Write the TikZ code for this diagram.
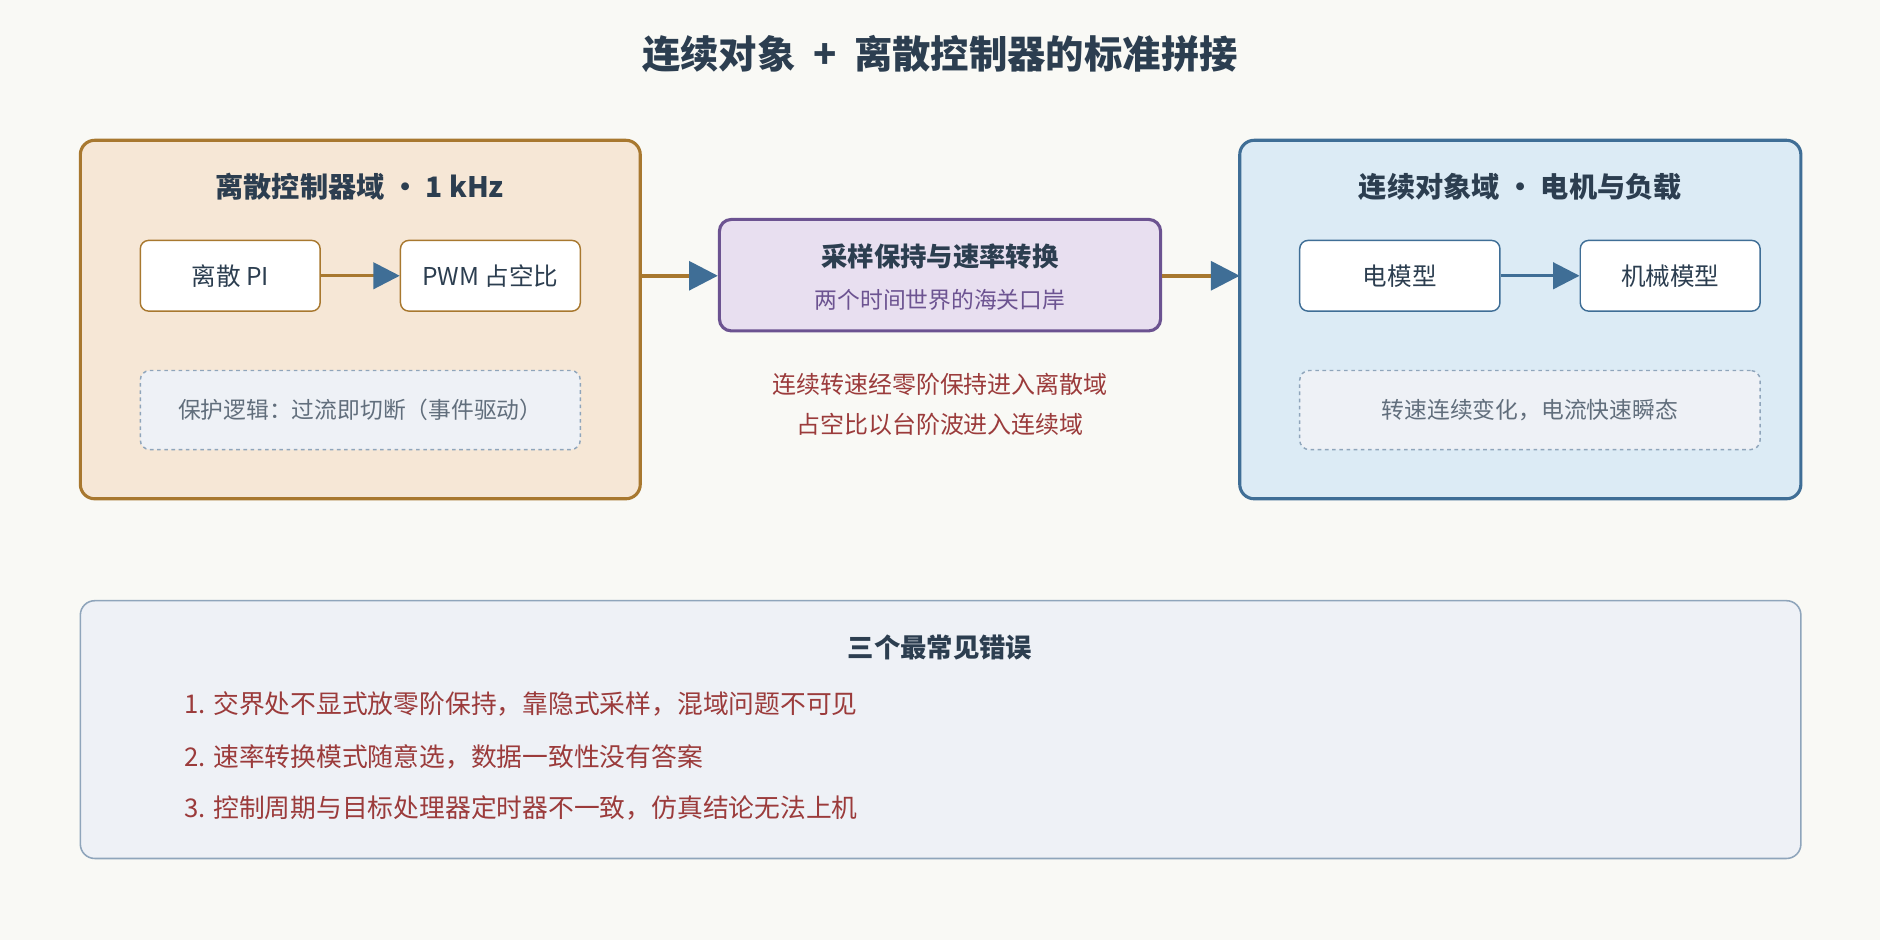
\documentclass[tikz,border=0pt]{standalone}
\usepackage{fontspec}
\setmainfont{Noto Sans CJK SC}
\usepackage{tikz}
\usetikzlibrary{arrows.meta,positioning}
\definecolor{bgc}{HTML}{F9F9F5}
\definecolor{ink}{HTML}{2C3E50}
\definecolor{brn}{HTML}{A8782F}
\definecolor{brnfill}{HTML}{F6E7D6}
\definecolor{blu}{HTML}{3F6E96}
\definecolor{blufill}{HTML}{DCEBF5}
\definecolor{pur}{HTML}{6C5391}
\definecolor{purfill}{HTML}{E8DFF0}
\definecolor{gry}{HTML}{EEF1F6}
\definecolor{gryline}{HTML}{8FA5BB}
\definecolor{errc}{HTML}{9B3B3B}
\tikzset{
  dombox/.style={rounded corners=12pt, line width=2.6pt},
  block/.style={draw, rounded corners=7pt, fill=white, line width=1.2pt, minimum width=150pt, minimum height=59pt, font=\fontsize{20.5}{24}\selectfont, text=ink},
  note/.style={draw=gryline, dashed, rounded corners=8pt, fill=gry, line width=1.2pt, minimum height=66pt, font=\fontsize{19}{22}\selectfont, text=ink!75},
  link/.style={line width=3pt, brn, -{Triangle[length=24pt,width=24pt,fill=blu,color=blu]}},
  sublink/.style={line width=2.5pt, -{Triangle[length=22pt,width=22pt,fill=blu,color=blu]}}
}
\begin{document}
\begin{tikzpicture}[x=1pt,y=-1pt]
    \fill[bgc] (0,0) rectangle (1568,784);
    \useasboundingbox (0,0) rectangle (1568,784);

    % Title
    \node[font=\fontsize{32}{36}\selectfont\bfseries, text=ink] (title) at (784,45) {连续对象 ~+~ 离散控制器的标准拼接};

    % Discrete domain
    \draw[dombox, draw=brn, fill=brnfill] (67,117) rectangle (534,416);
    \node[font=\fontsize{23.5}{27}\selectfont\bfseries, text=ink] (dtitle) at (300,156) {离散控制器域 • 1 kHz};
    \node[block, draw=brn] (pi) at (192,230) {离散 PI};
    \node[block, draw=brn] (pwm) at (409,230) {PWM 占空比};
    \draw[sublink, brn] (pi) -- (pwm);
    \node[note, minimum width=367pt] (prot) at (300.5,342) {保护逻辑：过流即切断（事件驱动）};

    % Rate transition
    \node[draw=pur, fill=purfill, line width=2.6pt, rounded corners=10pt, minimum width=368pt, minimum height=93pt] (rt) at (784,229.5) {};
    \node[font=\fontsize{22}{26}\selectfont\bfseries, text=ink] (rttitle) at (784,214) {采样保持与速率转换};
    \node[font=\fontsize{19}{22}\selectfont, text=pur] (rtsub) at (784,250) {两个时间世界的海关口岸};
    \coordinate (dout) at (534,230);
    \coordinate (cin) at (1034,230);
    \draw[link] (dout) -- (rt.west |- dout);
    \draw[link] (rt.east |- cin) -- (cin);
    \node[font=\fontsize{20}{24}\selectfont, text=errc] (l1) at (784,321) {连续转速经零阶保持进入离散域};
    \node[font=\fontsize{20}{24}\selectfont, text=errc] (l2) at (784,354) {占空比以台阶波进入连续域};

    % Continuous domain
    \draw[dombox, draw=blu, fill=blufill] (1034,117) rectangle (1502,416);
    \node[font=\fontsize{23.5}{27}\selectfont\bfseries, text=ink] (ctitle) at (1268,156) {连续对象域 • 电机与负载};
    \node[block, draw=blu, minimum width=167pt] (elec) at (1167.5,230) {电模型};
    \node[block, draw=blu] (mech) at (1393,230) {机械模型};
    \draw[sublink, blu] (elec) -- (mech);
    \node[note, minimum width=384pt] (cnote) at (1276,342) {转速连续变化，电流快速瞬态};

    % Mistakes
    \draw[draw=gryline, fill=gry, line width=1.3pt, rounded corners=12pt] (67,501) rectangle (1502,716);
    \node[font=\fontsize{22}{26}\selectfont\bfseries, text=ink] (mtitle) at (784,540) {三个最常见错误};
    \node[anchor=west, font=\fontsize{21.5}{25}\selectfont, text=errc] (m1) at (150,587) {1. 交界处不显式放零阶保持，靠隐式采样，混域问题不可见};
    \node[anchor=west, font=\fontsize{21.5}{25}\selectfont, text=errc] (m2) at (150,631) {2. 速率转换模式随意选，数据一致性没有答案};
    \node[anchor=west, font=\fontsize{21.5}{25}\selectfont, text=errc] (m3) at (150,674) {3. 控制周期与目标处理器定时器不一致，仿真结论无法上机};
\end{tikzpicture}
\end{document}
